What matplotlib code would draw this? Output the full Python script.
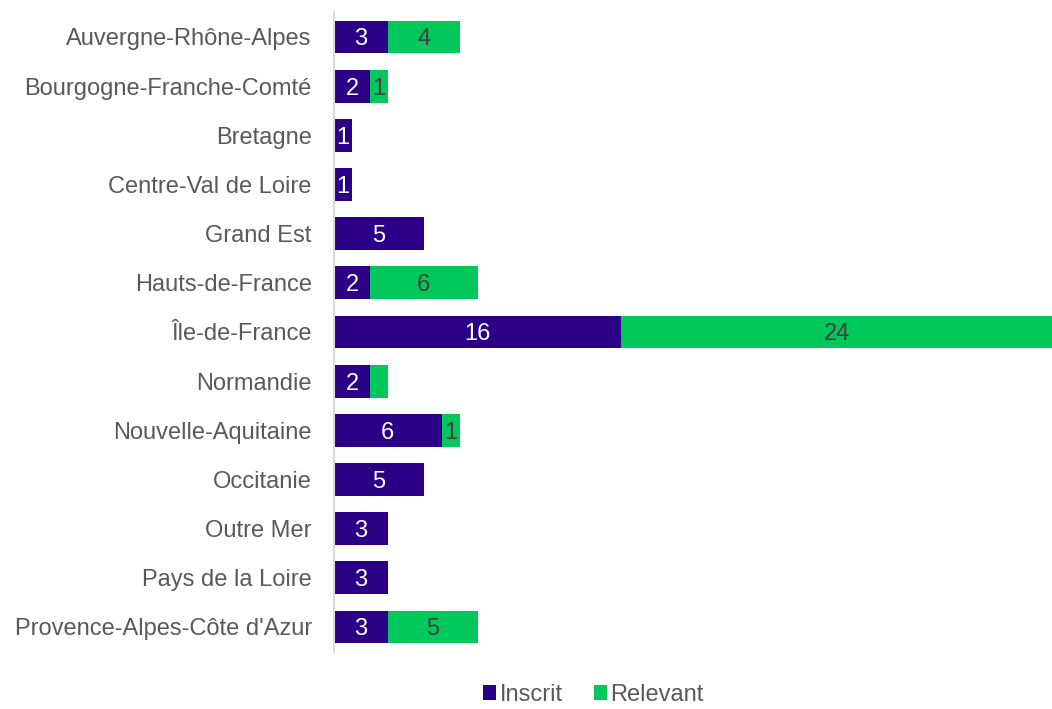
import numpy as np
from matplotlib import pyplot as plt

regions = ["Auvergne-Rhône-Alpes", "Bourgogne-Franche-Comté", "Bretagne",
           "Centre-Val de Loire", "Grand Est", "Hauts-de-France", "Île-de-France",
           "Normandie", "Nouvelle-Aquitaine", "Occitanie", "Outre Mer",
           "Pays de la Loire", "Provence-Alpes-Côte d'Azur"]
inscrit = [3, 2, 1, 1, 5, 2, 16, 2, 6, 5, 3, 3, 3]
relevant = [4, 1, 0, 0, 0, 6, 24, 1, 1, 0, 0, 0, 5]
# the reference shows no number on this one
no_label_relevant = ["Normandie"]

plt.rcParams['font.family'] = ['Liberation Sans', 'DejaVu Sans']

c_ins = '#2B0087'
c_rel = '#00C85A'
fs = 17

fig = plt.figure(figsize=(10.52, 7.09), dpi=100)
ax = fig.add_axes([0.3175, 0.081, 0.6825, 0.9015])

y = np.arange(len(regions))
h = 0.67
b1 = ax.barh(y, inscrit, height=h, color=c_ins, label='Inscrit')
b2 = ax.barh(y, relevant, height=h, left=inscrit, color=c_rel, label='Relevant')

for i in range(len(regions)):
    if inscrit[i] > 0:
        ax.text(inscrit[i] / 2, y[i], str(inscrit[i]), ha='center',
                va='center_baseline', color='white', fontsize=fs)
    if relevant[i] > 0 and regions[i] not in no_label_relevant:
        ax.text(inscrit[i] + relevant[i] / 2, y[i], str(relevant[i]), ha='center',
                va='center_baseline', color='#404040', fontsize=fs)

ax.set_xlim(0, 40)
ax.set_ylim(len(regions) - 0.5, -0.5)
ax.set_yticks(y)
ax.set_yticklabels(regions, fontsize=fs, color='#595959')
ax.tick_params(axis='y', length=0, pad=16)
ax.set_xticks([])
for s in ['top', 'right', 'bottom']:
    ax.spines[s].set_visible(False)
ax.spines['left'].set_color('#D9D9D9')
ax.spines['left'].set_linewidth(1.5)

leg = fig.legend(handles=[b1, b2], loc='center', bbox_to_anchor=(0.564, 0.02),
                 ncol=2, frameon=False, fontsize=fs, handlelength=0.55,
                 handleheight=0.55, handletextpad=0.15, columnspacing=1.3,
                 borderpad=0)
for t in leg.get_texts():
    t.set_color('#595959')

plt.savefig('out.png', dpi=100)
